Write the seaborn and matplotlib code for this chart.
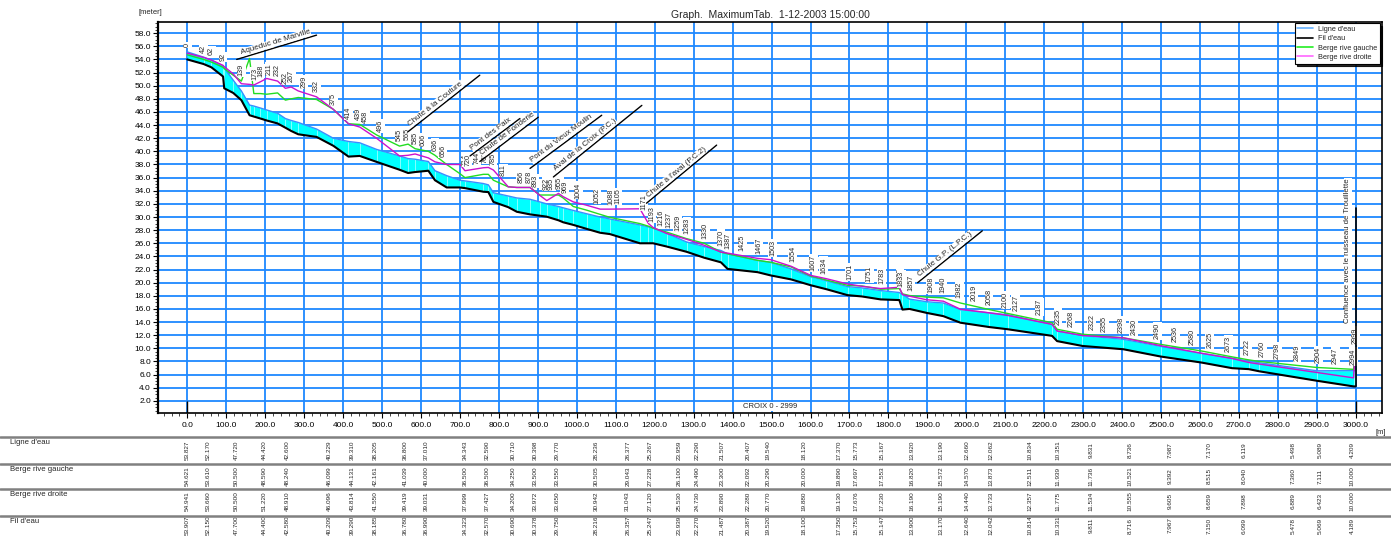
import numpy as np
import matplotlib
matplotlib.use("Agg")
import matplotlib.pyplot as plt
import seaborn as sns
from matplotlib.lines import Line2D
from matplotlib import transforms
from matplotlib.ticker import MultipleLocator, FormatStrFormatter

# ---------------- data ----------------
chainage = [0, 42, 62, 92, 95, 118, 139, 160, 171, 188, 204, 232, 252, 267, 285, 332, 375, 414, 443, 486,
            545, 567, 585, 619, 636, 666, 700, 713, 760, 773, 786, 824, 846, 880, 905, 923, 953, 965, 991, 1025,
            1060, 1085, 1162, 1184, 1196, 1231, 1282, 1327, 1370, 1387, 1464, 1498, 1550, 1601, 1641, 1695, 1732, 1780, 1828, 1836,
            1854, 1898, 1941, 1985, 2059, 2107, 2220, 2233, 2298, 2403, 2499, 2603, 2682, 2725, 2752, 2900, 2994, 2999]

fil_eau = [54.0, 53.3, 52.8, 51.4, 49.6, 48.9, 47.8, 45.5, 45.3, 45.0, 44.7, 44.25, 43.6, 43.1, 42.6, 42.2, 40.85, 39.2, 39.3, 38.4,
           37.2, 36.7, 36.85, 37.05, 35.6, 34.5, 34.5, 34.4, 33.85, 33.8, 32.3, 31.5, 30.8, 30.4, 30.2, 30.05, 29.5, 29.2, 28.8, 28.2,
           27.6, 27.4, 26.0, 26.0, 26.0, 25.5, 24.7, 23.8, 23.1, 22.1, 21.6, 21.1, 20.5, 19.6, 19.0, 18.1, 17.9, 17.45, 17.35, 15.9,
           16.0, 15.4, 14.9, 13.9, 13.24, 12.9, 11.9, 11.1, 10.36, 9.86, 8.75, 7.84, 6.98, 6.83, 6.5, 5.06, 4.2, 4.2]

ligne_eau = [55.15, 54.35, 53.9, 53.0, 52.7, 50.85, 49.2, 47.05, 46.9, 46.6, 46.3, 45.8, 45.0, 44.7, 44.4, 43.4, 42.0, 41.5, 41.3, 40.3,
             39.3, 38.9, 38.8, 38.45, 37.05, 36.3, 35.6, 35.5, 35.1, 34.9, 33.7, 33.2, 32.9, 32.7, 32.3, 32.0, 31.6, 31.4, 31.0, 30.5,
             30.0, 29.7, 28.8, 28.5, 28.3, 27.5, 26.2, 25.5, 24.9, 24.4, 23.4, 23.1, 22.1, 20.9, 20.3, 19.4, 19.2, 18.8, 18.5, 18.2,
             17.5, 17.1, 16.9, 15.9, 15.4, 15.1, 13.65, 12.64, 11.95, 11.37, 10.3, 9.25, 8.5, 8.04, 7.8, 6.58, 6.6, 6.6]

berge_gauche = [54.7, 54.0, 53.6, 52.8, 52.6, 51.6, 50.7, 54.15, 48.8, 48.8, 48.7, 48.9, 47.8, 48.0, 48.2, 47.9, 46.4, 44.2, 44.1, 42.5,
                40.8, 41.1, 40.4, 40.0, 39.4, 38.0, 36.6, 36.0, 36.5, 36.5, 35.6, 34.6, 34.5, 34.5, 33.35, 33.35, 33.35, 32.9, 31.6, 31.05,
                30.4, 29.95, 29.0, 28.6, 28.3, 27.7, 26.7, 26.0, 24.65, 24.4, 23.4, 23.1, 22.4, 21.0, 20.4, 19.6, 19.5, 19.0, 19.1, 18.3,
                18.04, 17.8, 17.69, 16.9, 15.9, 15.3, 13.9, 12.9, 12.15, 11.6, 10.6, 9.6, 8.7, 8.24, 8.0, 7.08, 6.8, 10.0]

berge_droite = [54.95, 54.3, 53.9, 53.1, 52.9, 51.8, 50.3, 50.2, 50.1, 50.6, 51.1, 50.7, 49.6, 49.8, 49.2, 48.3, 46.4, 44.2, 43.7, 42.0,
                39.3, 39.4, 39.6, 39.0, 38.4, 38.0, 38.0, 37.05, 37.5, 37.55, 37.15, 34.6, 34.5, 34.5, 33.3, 32.5, 33.6, 33.1, 32.3, 31.8,
                31.2, 31.2, 31.25, 29.0, 28.4, 27.5, 26.6, 25.7, 24.65, 24.5, 23.7, 23.5, 22.5, 21.1, 20.6, 19.8, 19.45, 19.1, 19.3, 18.2,
                17.94, 17.4, 17.18, 15.95, 15.4, 15.0, 13.65, 12.64, 11.95, 11.6, 10.4, 9.25, 8.45, 7.84, 7.6, 6.32, 5.5, 10.0]

section_labels = [0, 42, 62, 92, 139, 173, 188, 211, 232, 252, 267, 299, 332, 375, 414, 439, 458, 496, 545, 565,
                  585, 606, 636, 656, 714, 720, 744, 765, 785, 811, 856, 878, 893, 922, 935, 955, 969, 1004, 1052, 1088,
                  1105, 1171, 1193, 1216, 1237, 1259, 1283, 1330, 1370, 1387, 1425, 1467, 1503, 1554, 1607, 1634, 1701, 1751, 1783, 1830,
                  1833, 1857, 1908, 1940, 1982, 2019, 2058, 2100, 2127, 2187, 2235, 2268, 2322, 2355, 2398, 2430, 2490, 2536, 2580, 2625,
                  2673, 2722, 2760, 2798, 2849, 2904, 2947, 2994, 2999]

structure_names = ["Aqueduc de Marville", "Chute à la Couture", "Pont des Paix", "Chute de Fonderie",
                   "Pont du Vieux Moulin", "Aval de la Croix (P.C.)", "Chute à l'aval (P.C.2)", "Chute G.P. (L.P.C.)"]
confluence_name = "Confluence avec le ruisseau de Trouillette"

table_rows = ["Ligne d'eau", "Berge rive gauche", "Berge rive droite", "Fil d'eau"]
table_chainage = [0, 53, 125, 197, 256, 364, 423, 484, 561, 615, 713, 770, 836, 893, 949, 1049, 1131, 1188, 1262, 1309,
                  1373, 1440, 1491, 1584, 1673, 1717, 1784, 1861, 1935, 2002, 2064, 2164, 2235, 2320, 2420, 2523, 2623, 2713, 2839, 2908, 2990]
table_ligne = [53.827, 52.170, 47.720, 44.420, 42.600, 40.229, 39.310, 38.205, 36.800, 37.010, 34.343, 32.590, 30.710, 30.398, 29.770,
               28.236, 26.377, 25.267, 23.959, 22.290, 21.507, 20.407, 19.540, 18.120, 17.370, 15.773, 15.167, 13.920, 13.190, 12.660,
               12.062, 10.834, 10.351, 9.831, 8.736, 7.987, 7.170, 6.119, 5.498, 5.089, 4.209]
table_gauche = [54.621, 53.610, 50.500, 48.590, 48.240, 46.099, 44.131, 42.161, 41.039, 40.000, 36.500, 36.500, 34.250, 33.500, 33.550,
                30.505, 29.043, 27.228, 26.100, 24.490, 23.300, 22.092, 20.290, 20.000, 19.890, 17.697, 17.553, 16.820, 15.572, 14.570,
                13.873, 12.511, 11.939, 11.736, 10.521, 9.392, 8.515, 8.040, 7.360, 7.111, 10.000]
table_droite = [54.941, 53.660, 50.500, 51.220, 48.910, 46.096, 43.814, 41.550, 39.419, 39.031, 37.999, 37.427, 34.200, 33.972, 33.650,
                30.942, 31.043, 27.120, 25.530, 24.730, 23.890, 22.280, 20.770, 19.880, 19.130, 17.676, 17.230, 16.190, 15.190, 14.440,
                13.733, 12.357, 11.775, 11.534, 10.555, 9.605, 8.659, 7.898, 6.889, 6.423, 10.000]
table_fil = [53.907, 52.150, 47.700, 44.400, 42.580, 40.209, 39.290, 38.185, 36.780, 36.990, 34.323, 32.570, 30.690, 30.378, 29.750,
             28.216, 26.357, 25.247, 23.939, 22.270, 21.487, 20.387, 19.520, 18.100, 17.350, 15.753, 15.147, 13.900, 13.170, 12.640,
             12.042, 10.814, 10.331, 9.811, 8.716, 7.967, 7.150, 6.099, 5.478, 5.069, 4.189]

# ---------------- style ----------------
sns.set_style("white")
plt.rcParams['font.family'] = ['Liberation Sans', 'DejaVu Sans']

W, H = 1391, 536
fig = plt.figure(figsize=(W / 100, H / 100), dpi=100)
ax = fig.add_axes([158 / W, 1 - 413 / H, (1382 - 158) / W, (413 - 22) / H])
ax.set_xlim(-75, 3067)
ax.set_ylim(0.15, 59.7)

GRID = '#1e88ff'
ax.set_xticks(np.arange(0, 3001, 100))
ax.set_yticks(np.arange(2, 59, 2))
ax.xaxis.set_minor_locator(MultipleLocator(20))
ax.yaxis.set_minor_locator(MultipleLocator(0.5))
ax.xaxis.set_major_formatter(FormatStrFormatter('%.1f'))
ax.yaxis.set_major_formatter(FormatStrFormatter('%.1f'))
ax.grid(True, which='major', color=GRID, lw=1.3, zorder=0)
ax.set_axisbelow(True)
ax.tick_params(axis='both', which='major', direction='out', length=3.5, width=0.8, labelsize=6, colors='black',
               bottom=True, left=True)
ax.tick_params(axis='x', which='major', pad=3)
ax.tick_params(axis='y', which='major', pad=1.5)
ax.tick_params(axis='both', which='minor', direction='out', length=2, width=0.6, bottom=True, left=True)
for s in ax.spines.values():
    s.set_color('black')
    s.set_linewidth(1.2)
ax.spines['left'].set_linewidth(1.6)

x = np.array(chainage, dtype=float)
bed = np.array(fil_eau)
wat = np.array(ligne_eau)

# water body
ax.fill_between(x, bed, wat, color='#00ffff', lw=0, zorder=2)
ax.vlines(x[1:-1], bed[1:-1], wat[1:-1], color='#b8ffff', lw=0.5, zorder=2.1)

sns.lineplot(x=chainage, y=fil_eau, color='black', lw=1.5, ax=ax, estimator=None, sort=False, zorder=3)
sns.lineplot(x=chainage, y=ligne_eau, color='#3a8dff', lw=1.0, ax=ax, estimator=None, sort=False, zorder=3)
sns.lineplot(x=chainage, y=berge_gauche, color='#22dd22', lw=1.0, ax=ax, estimator=None, sort=False, zorder=4)
sns.lineplot(x=chainage, y=berge_droite, color='#cc11cc', lw=1.0, ax=ax, estimator=None, sort=False, zorder=4)
ax.set_xlabel('')
ax.set_ylabel('')

# section labels
top = np.maximum.reduce([wat, np.array(berge_gauche), np.array(berge_droite)])
for lab in section_labels:
    yb = np.interp(lab, x, top) + 0.7
    ax.text(lab, yb, str(lab), rotation=90, ha='center', va='bottom', fontsize=5.2, zorder=6,
            bbox=dict(facecolor='white', edgecolor='none', pad=0.6))

# structure markers (diagonal)
struct_geom = [(127, 54.0, 332, 57.7), (567, 43.0, 751, 51.6), (726, 39.3, 854, 45.0), (751, 38.45, 901, 45.2),
               (880, 37.4, 1064, 45.5), (940, 36.1, 1167, 47.0), (1179, 32.1, 1359, 40.95), (1875, 20.0, 2041, 27.9)]
fig.canvas.draw()
for name, (x0, y0, x1, y1) in zip(structure_names, struct_geom):
    ax.plot([x0, x1], [y0, y1], color='black', lw=1.0, zorder=7)
    p0 = ax.transData.transform((x0, y0))
    p1 = ax.transData.transform((x1, y1))
    ang = np.degrees(np.arctan2(p1[1] - p0[1], p1[0] - p0[0]))
    ca, sa = np.cos(np.radians(ang)), np.sin(np.radians(ang))
    ax.annotate(name, xy=(x0, y0), xytext=(4 * ca - 1.0 * sa, 4 * sa + 1.0 * ca),
                textcoords='offset points', rotation=ang, rotation_mode='anchor', ha='left', va='bottom',
                fontsize=5.8, zorder=7, bbox=dict(facecolor='white', edgecolor='none', pad=0.3))

# confluence marker
ax.plot([2999, 2999], [fil_eau[-1], 31.4], color='black', lw=1.2, zorder=7)
ax.text(2988, 13.9, confluence_name, rotation=90, ha='right', va='bottom', fontsize=5.6, zorder=7,
        bbox=dict(facecolor='white', edgecolor='none', pad=0.3))

# extent markers
ax.vlines([0, 2999], 0.15, 2.0, color='black', lw=1.0, zorder=5)
ax.text(1497, 1.15, 'CROIX 0 - 2999', ha='center', va='center', fontsize=5.5, zorder=6,
        bbox=dict(facecolor='white', edgecolor='none', pad=0.5))

# legend
handles = [Line2D([], [], color='#66b2ff', lw=1.2), Line2D([], [], color='black', lw=1.2),
           Line2D([], [], color='#22ee22', lw=1.2), Line2D([], [], color='#ff66ff', lw=1.2)]
leg = ax.legend(handles, ["Ligne d'eau", "Fil d'eau", "Berge rive gauche", "Berge rive droite"],
                loc='upper right', bbox_to_anchor=(0.998, 0.997), borderaxespad=0, fontsize=5.3, frameon=True,
                fancybox=False, edgecolor='black', framealpha=1, handlelength=2.2, labelspacing=0.3,
                borderpad=0.35, handletextpad=0.6, shadow={'color': 'black', 'alpha': 0.85})
leg.get_frame().set_linewidth(0.8)
leg.set_zorder(10)

# titles / units
fig.text(770 / W, 1 - 15 / H, 'Graph.  MaximumTab.  1-12-2003 15:00:00', ha='center', va='center', fontsize=7.5)
fig.text(150 / W, 1 - 13 / H, '[meter]', ha='center', va='center', fontsize=5.5)
fig.text(1381 / W, 1 - 432 / H, '[m]', ha='center', va='center', fontsize=5.5)

# data table
row_lines = [437, 464, 489, 516]
row_centers = [450, 476, 501, 525.5]
row_values = [table_ligne, table_gauche, table_droite, table_fil]
blend = transforms.blended_transform_factory(ax.transData, fig.transFigure)
for name, yl, yc, vals in zip(table_rows, row_lines, row_centers, row_values):
    fig.add_artist(Line2D([0, 1], [1 - yl / H, 1 - yl / H], transform=fig.transFigure, color='#808080', lw=1.8))
    fig.text(10 / W, 1 - (yl + 2) / H, name, ha='left', va='top', fontsize=5.6)
    for cx, v in zip(table_chainage, vals):
        ax.text(cx, 1 - yc / H, f"{v:.3f}", transform=blend, rotation=90, ha='center', va='center',
                fontsize=4.6, clip_on=False)

fig.savefig('out.png', dpi=100)
